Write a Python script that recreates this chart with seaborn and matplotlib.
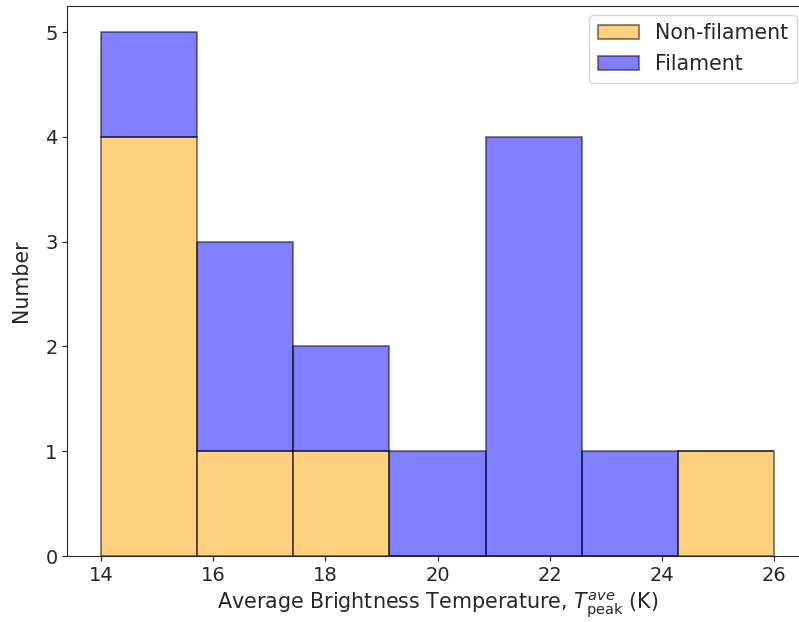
import numpy as np
import pandas as pd
import seaborn as sns
from matplotlib import pyplot as plt
from matplotlib.patches import Patch

# histogram bin edges (K) and counts
bin_edges = [14.0, 15.714, 17.429, 19.143, 20.857, 22.571, 24.286, 26.0]
nonfil_counts = [4, 1, 1, 0, 0, 0, 1]
fil_counts = [1, 2, 1, 1, 4, 1, 0]
groups = ['Non-filament', 'Filament']
colors = {'Non-filament': 'orange', 'Filament': 'blue'}

centers = [(a + b) / 2 for a, b in zip(bin_edges[:-1], bin_edges[1:])]
df = pd.DataFrame({
    'temp': centers * 2,
    'count': nonfil_counts + fil_counts,
    'group': ['Non-filament'] * len(centers) + ['Filament'] * len(centers),
})

sns.set_style('ticks')
plt.rcParams['font.family'] = ['DejaVu Sans']

fig = plt.figure(figsize=(7.99, 6.22), dpi=100)
ax = fig.add_axes([0.0844, 0.1061, 0.9264, 0.8843])

# seaborn stacks the last hue level at the bottom
edge = (0, 0, 0, 0.5)
sns.histplot(data=df, x='temp', weights='count', hue='group',
             hue_order=groups[::-1], palette=colors, bins=bin_edges,
             multiple='stack', alpha=0.5, edgecolor=edge, linewidth=1.3,
             legend=False, ax=ax)

ax.set_xlim(13.4, 26.6)
ax.set_ylim(0, 5.25)
ax.set_xticks([14, 16, 18, 20, 22, 24, 26])
ax.set_yticks([0, 1, 2, 3, 4, 5])
ax.tick_params(labelsize=14)
ax.set_xlabel('Average Brightness Temperature, $T_{\\rm peak}^{ave}$ (K)', fontsize=14.9)
ax.set_ylabel('Number', fontsize=14.8, labelpad=10)

handles = [Patch(facecolor=colors[g], alpha=0.5, edgecolor='black', linewidth=1.3) for g in groups]
ax.legend(handles, groups, loc='upper right', bbox_to_anchor=(0.997, 0.976),
          bbox_transform=fig.transFigure, borderaxespad=0, fontsize=14.8,
          labelspacing=0.55)

plt.savefig('out.png', dpi=100)
plt.close()
